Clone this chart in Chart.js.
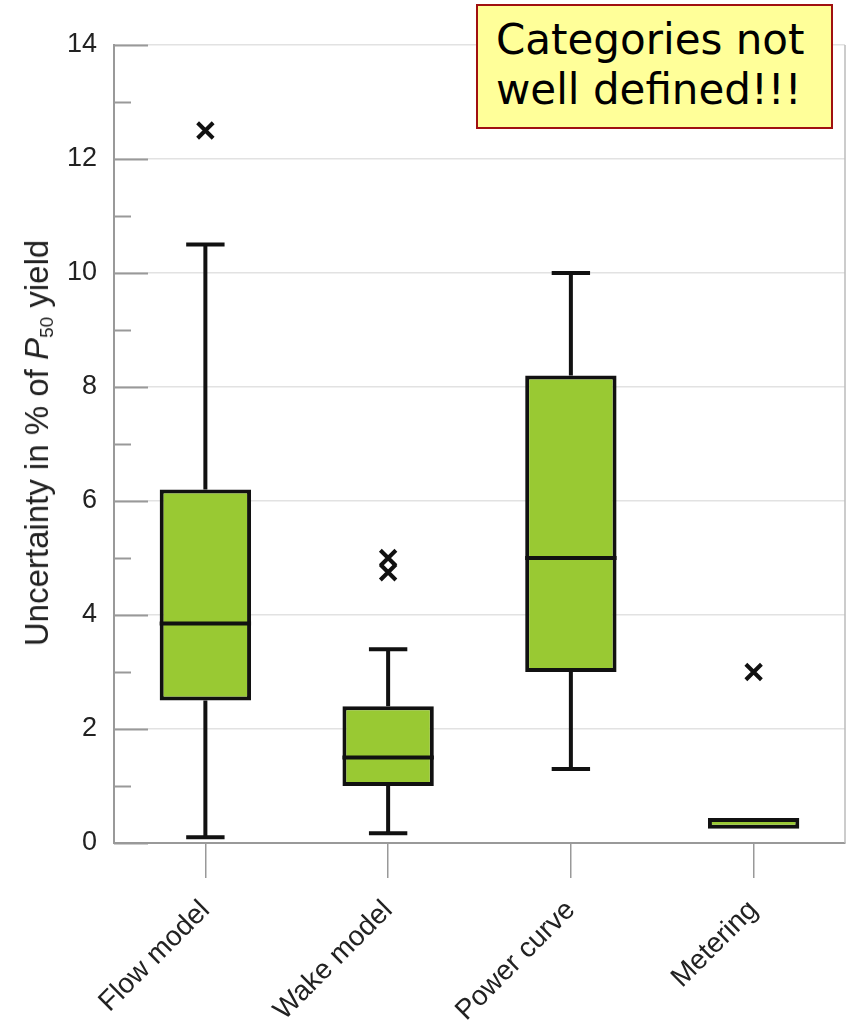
<!DOCTYPE html>
<html>
<head>
<meta charset="utf-8">
<script src="https://cdn.jsdelivr.net/npm/chart.js@4"></script>
<style>
  html, body { margin: 0; padding: 0; background: #fff; }
  #wrap { position: relative; width: 846px; height: 1025px; }
  #note {
    position: absolute; left: 476px; top: 4px; width: 357px; height: 125px;
    background: #ffff99; border: 2px solid #a01010; box-sizing: border-box;
    font-family: "DejaVu Sans", Verdana, sans-serif; font-size: 42px; line-height: 50px;
    color: #000; padding: 9px 0 0 18px; white-space: nowrap;
  }
  #ytitle {
    position: absolute; left: 38px; top: 443px; transform: translate(-50%, -50%) rotate(-90deg);
    white-space: nowrap; font-family: "Liberation Sans", Arial, sans-serif; font-size: 33px; color: #222;
  }
  #ytitle sub { font-size: 19px; vertical-align: -5px; }
</style>
</head>
<body>
<div id="wrap">
  <canvas id="chart" width="846" height="1025"></canvas>
  <div id="ytitle">Uncertainty in % of <i>P</i><sub>50</sub> yield</div>
  <div id="note">Categories not<br>well defined!!!</div>
</div>
<script>
// Box plot statistics
const categories = ['Flow model', 'Wake model', 'Power curve', 'Metering'];
const whiskerLow = [0.1, 0.17, 1.3, 0.25];
const q1 = [2.5, 1.0, 3.0, 0.25];
const median = [3.85, 1.5, 5.0, null];
const q3 = [6.2, 2.4, 8.2, 0.44];
const whiskerHigh = [10.5, 3.4, 10.0, 0.44];
const outlierCats = ['Flow model', 'Wake model', 'Wake model', 'Metering'];
const outlierValues = [12.5, 5.0, 4.75, 3.0];
const yTicks = [0, 2, 4, 6, 8, 10, 12, 14];

// whiskers, medians and inward y ticks
const boxExtras = {
  id: 'boxExtras',
  afterDatasetsDraw(chart) {
    const ctx = chart.ctx;
    const x = chart.scales.x, y = chart.scales.y;
    const capHalf = x.width / categories.length * 0.105;
    const boxHalf = x.width / categories.length * 0.25;
    ctx.save();
    ctx.strokeStyle = '#111';
    ctx.lineWidth = 4;
    ctx.lineCap = 'butt';
    categories.forEach((c, i) => {
      const cx = x.getPixelForValue(i);
      if (whiskerHigh[i] > q3[i]) {
        ctx.beginPath();
        ctx.moveTo(cx, y.getPixelForValue(q3[i]));
        ctx.lineTo(cx, y.getPixelForValue(whiskerHigh[i]));
        ctx.moveTo(cx - capHalf, y.getPixelForValue(whiskerHigh[i]));
        ctx.lineTo(cx + capHalf, y.getPixelForValue(whiskerHigh[i]));
        ctx.stroke();
      }
      if (whiskerLow[i] < q1[i]) {
        ctx.beginPath();
        ctx.moveTo(cx, y.getPixelForValue(q1[i]));
        ctx.lineTo(cx, y.getPixelForValue(whiskerLow[i]));
        ctx.moveTo(cx - capHalf, y.getPixelForValue(whiskerLow[i]));
        ctx.lineTo(cx + capHalf, y.getPixelForValue(whiskerLow[i]));
        ctx.stroke();
      }
      if (median[i] !== null) {
        ctx.beginPath();
        ctx.moveTo(cx - boxHalf, y.getPixelForValue(median[i]));
        ctx.lineTo(cx + boxHalf, y.getPixelForValue(median[i]));
        ctx.stroke();
      }
    });
    // inward ticks on the y axis, long at labelled values, short in between
    ctx.strokeStyle = '#999';
    ctx.lineWidth = 2;
    for (let v = 0; v <= 14; v++) {
      const py = Math.round(y.getPixelForValue(v)) + 0.5;
      ctx.beginPath();
      ctx.moveTo(chart.chartArea.left, py);
      ctx.lineTo(chart.chartArea.left + (v % 2 === 0 ? 34 : 17), py);
      ctx.stroke();
    }
    // right border
    ctx.strokeStyle = '#bbb';
    ctx.lineWidth = 1.5;
    ctx.beginPath();
    ctx.moveTo(chart.chartArea.right, chart.chartArea.top);
    ctx.lineTo(chart.chartArea.right, chart.chartArea.bottom);
    ctx.stroke();
    ctx.restore();
  }
};

new Chart(document.getElementById('chart'), {
  type: 'bar',
  data: {
    labels: categories,
    datasets: [
      {
        type: 'bar',
        data: categories.map((c, i) => [q1[i], q3[i]]),
        backgroundColor: '#99c933',
        borderColor: '#111',
        borderWidth: 4,
        borderSkipped: false,
        barPercentage: 0.5,
        categoryPercentage: 1.0,
        order: 2
      },
      {
        type: 'scatter',
        data: outlierCats.map((c, i) => ({ x: c, y: outlierValues[i] })),
        pointStyle: 'crossRot',
        radius: 11,
        borderWidth: 4,
        borderColor: '#111',
        order: 1
      }
    ]
  },
  plugins: [boxExtras],
  options: {
    responsive: false,
    animation: false,
    layout: { autoPadding: false, padding: { left: 0, right: 1, top: 45, bottom: 0 } },
    plugins: { legend: { display: false }, tooltip: { enabled: false } },
    scales: {
      x: {
        type: 'category',
        offset: true,
        afterFit: s => { s.height = 182; s.paddingLeft = 0; s.paddingRight = 0; },
        grid: { offset: false, drawOnChartArea: false, drawTicks: true, tickLength: 35, color: '#999', lineWidth: 1.5 },
        border: { color: '#999', width: 2 },
        ticks: {
          minRotation: 45, maxRotation: 45, padding: 16,
          color: '#222', font: { family: 'Liberation Sans', size: 28 }
        }
      },
      y: {
        min: 0, max: 14,
        afterFit: s => { s.width = 114; },
        afterBuildTicks: s => { s.ticks = yTicks.map(v => ({ value: v })); },
        grid: { drawTicks: false, color: '#e2e2e2', lineWidth: 1.5 },
        border: { color: '#999', width: 2 },
        ticks: { padding: 17, color: '#222', font: { family: 'Liberation Sans', size: 27 } }
      }
    }
  }
});
</script>
</body>
</html>
